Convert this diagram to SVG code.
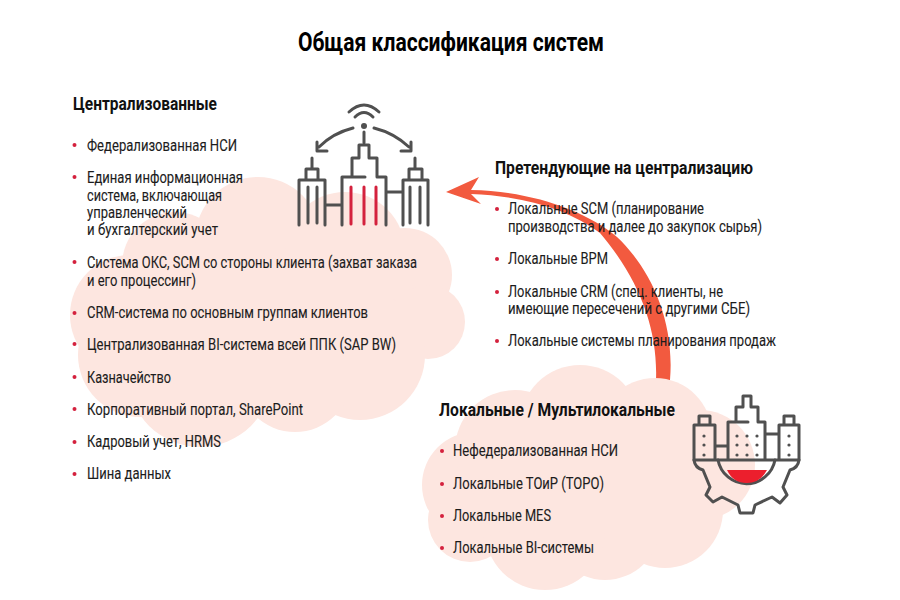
<svg xmlns="http://www.w3.org/2000/svg" width="900" height="600" viewBox="0 0 900 600">
<style>
text{font-family:"Roboto","Liberation Sans",sans-serif;fill:#1c1c1c;font-size:16.5px;stroke:#1c1c1c;stroke-width:.12px}
.h{font-weight:700;font-size:19px;fill:#111;stroke:none}
.t{font-weight:700;font-size:26px;fill:#000;stroke:none}
.c{fill:#fde6e0}
.b{fill:#d4213d}
.i{fill:none;stroke:#505050;stroke-width:3;stroke-linecap:round;stroke-linejoin:round}
.r{fill:none;stroke:#d4213d;stroke-width:3;stroke-linecap:round}
.d{fill:#505050}
</style>
<rect width="900" height="600" fill="#fff"/>
<g id="cloud-central" class="c">
<circle cx="175" cy="265" r="53"/><circle cx="258" cy="240" r="63"/><circle cx="345" cy="252" r="60"/><circle cx="405" cy="275" r="47"/><circle cx="428" cy="322" r="37"/><circle cx="360" cy="355" r="65"/><circle cx="295" cy="375" r="57"/><circle cx="200" cy="375" r="72"/><circle cx="140" cy="355" r="62"/><circle cx="130" cy="315" r="60"/><rect x="150" y="250" width="240" height="130"/>
</g>
<g id="connectors">
<path d="M446 192L479 177L471 190C530 191 585 210 617 237C650 268 675 320 670 380L656 380C658 330 640 280 600 233C570 210 525 196 471 194L481 204Z" fill="#f25a3f"/>
</g>
<g id="cloud-local" class="c">
<circle cx="580" cy="425" r="60"/><circle cx="655" cy="435" r="57"/><circle cx="700" cy="465" r="55"/><circle cx="665" cy="510" r="58"/><circle cx="605" cy="525" r="55"/><circle cx="545" cy="530" r="60"/><circle cx="470" cy="520" r="42"/><circle cx="475" cy="485" r="53"/><circle cx="515" cy="450" r="60"/><rect x="480" y="430" width="200" height="100"/>
</g>
<g id="icon-central">
<path class="i" d="M355 117Q364 108 373 117M349 112Q364 98 379 112M364 132V143M353 128Q333 133 319 147M317 142V151H327M374 128Q394 133 409 147M411 142V151H401"/>
<circle class="d" cx="364" cy="126" r="3"/>
<path class="i" d="M342 225V177H365M352 177V158H359V145H369V158H377V177H386V225M299 225V180H325V225M308 187V223M317 187V223M306 180V169H318V180M312 169V158M403 225V180H428V225M410 187V223M420 187V223M409 180V169H422V180M415 169V158M325 205H342M386 192H403"/>
<path class="r" d="M351 187V224M364 187V224M376 187V224"/>
</g>
<g id="icon-local">
<path class="i" d="M694 460V425H715V460M699 425V416H710V425M728 460V422H748M736 422V407H743V396H751V407H758V422H765V460M779 460V425H799V460M784 425V416H794V425M715 446H728M765 434H779M694 460H799"/>
<path class="i" d="M694 460Q695 468 703 470L710 487L706 495L713 502L722 497L738 505L740 513H753L755 505L772 497L780 503L787 495L783 487L790 470Q798 468 799 460M718 460A29 29 0 0 0 775 460"/>
<path d="M727 470H767Q760 483 747 483Q733 483 727 470Z" fill="#ec1f2d"/>
<g class="d"><circle cx="704" cy="436" r="1.600"/><circle cx="704" cy="445" r="1.600"/><circle cx="704" cy="455" r="1.600"/><circle cx="737" cy="436" r="1.600"/><circle cx="747" cy="436" r="1.600"/><circle cx="757" cy="436" r="1.600"/><circle cx="737" cy="445" r="1.600"/><circle cx="747" cy="445" r="1.600"/><circle cx="757" cy="445" r="1.600"/><circle cx="737" cy="455" r="1.600"/><circle cx="747" cy="455" r="1.600"/><circle cx="757" cy="455" r="1.600"/><circle cx="789" cy="436" r="1.600"/><circle cx="789" cy="445" r="1.600"/><circle cx="789" cy="455" r="1.600"/></g>
</g>
<text id="title" class="t" x="298" y="51" textLength="306" lengthAdjust="spacingAndGlyphs">Общая классификация систем</text>
<g id="list-central">
<text class="h" x="73" y="110" textLength="144" lengthAdjust="spacingAndGlyphs">Централизованные</text>
<g class="b"><circle cx="74.500" cy="145" r="2"/><circle cx="74.500" cy="177" r="2"/><circle cx="74.500" cy="262" r="2"/><circle cx="74.500" cy="313" r="2"/><circle cx="74.500" cy="344" r="2"/><circle cx="74.500" cy="377" r="2"/><circle cx="74.500" cy="409" r="2"/><circle cx="74.500" cy="442" r="2"/><circle cx="74.500" cy="474" r="2"/></g>
<text x="87" y="151" textLength="150" lengthAdjust="spacingAndGlyphs">Федерализованная НСИ</text>
<text x="87" y="183" textLength="156" lengthAdjust="spacingAndGlyphs">Единая информационная</text>
<text x="87" y="200.500" textLength="135" lengthAdjust="spacingAndGlyphs">система, включающая</text>
<text x="87" y="218" textLength="100" lengthAdjust="spacingAndGlyphs">управленческий</text>
<text x="87" y="235" textLength="131" lengthAdjust="spacingAndGlyphs">и бухгалтерский учет</text>
<text x="87" y="268" textLength="330" lengthAdjust="spacingAndGlyphs">Система ОКС, SCM со стороны клиента (захват заказа</text>
<text x="87" y="286" textLength="109" lengthAdjust="spacingAndGlyphs">и его процессинг)</text>
<text x="87" y="318" textLength="281" lengthAdjust="spacingAndGlyphs">CRM-система по основным группам клиентов</text>
<text x="87" y="350" textLength="309" lengthAdjust="spacingAndGlyphs">Централизованная BI-система всей ППК (SAP BW)</text>
<text x="87" y="383" textLength="84" lengthAdjust="spacingAndGlyphs">Казначейство</text>
<text x="87" y="415" textLength="216" lengthAdjust="spacingAndGlyphs">Корпоративный портал, SharePoint</text>
<text x="87" y="447" textLength="134" lengthAdjust="spacingAndGlyphs">Кадровый учет, HRMS</text>
<text x="87" y="479" textLength="84" lengthAdjust="spacingAndGlyphs">Шина данных</text>
</g>
<g id="list-pretending">
<text class="h" x="495" y="174" textLength="258" lengthAdjust="spacingAndGlyphs">Претендующие на централизацию</text>
<g class="b"><circle cx="497" cy="209" r="2"/><circle cx="497" cy="259" r="2"/><circle cx="497" cy="292" r="2"/><circle cx="497" cy="341" r="2"/></g>
<text x="508" y="214" textLength="196" lengthAdjust="spacingAndGlyphs">Локальные SCM (планирование</text>
<text x="508" y="232" textLength="254" lengthAdjust="spacingAndGlyphs">производства и далее до закупок сырья)</text>
<text x="508" y="264" textLength="100" lengthAdjust="spacingAndGlyphs">Локальные BPM</text>
<text x="508" y="297" textLength="215" lengthAdjust="spacingAndGlyphs">Локальные CRM (спец. клиенты, не</text>
<text x="508" y="314" textLength="242" lengthAdjust="spacingAndGlyphs">имеющие пересечений с другими СБЕ)</text>
<text x="508" y="346" textLength="268" lengthAdjust="spacingAndGlyphs">Локальные системы планирования продаж</text>
</g>
<g id="list-local">
<text class="h" x="439" y="416" textLength="236" lengthAdjust="spacingAndGlyphs">Локальные / Мультилокальные</text>
<g class="b"><circle cx="442" cy="451" r="2"/><circle cx="442" cy="484" r="2"/><circle cx="442" cy="516" r="2"/><circle cx="442" cy="548" r="2"/></g>
<text x="453" y="456" textLength="165" lengthAdjust="spacingAndGlyphs">Нефедерализованная НСИ</text>
<text x="453" y="489" textLength="151" lengthAdjust="spacingAndGlyphs">Локальные ТОиР (ТОРО)</text>
<text x="453" y="521" textLength="98" lengthAdjust="spacingAndGlyphs">Локальные MES</text>
<text x="453" y="553" textLength="141" lengthAdjust="spacingAndGlyphs">Локальные BI-системы</text>
</g>
</svg>
